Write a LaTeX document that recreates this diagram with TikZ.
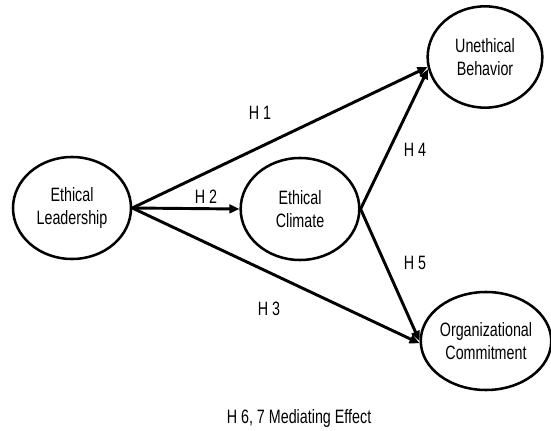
\documentclass[tikz,border=0pt]{standalone}
\usepackage{fontspec}
\setmainfont{Liberation Sans}[FakeStretch=0.74]
\usetikzlibrary{shapes.geometric,arrows.meta}
\begin{document}
\begin{tikzpicture}[x=0.75pt,y=-0.75pt,
  construct/.style={ellipse, draw, line width=1.9pt, align=center, inner sep=0pt,
    font=\fontsize{14.5}{17.5}\selectfont},
  hyp/.style={line width=2.2pt, -{Triangle[length=7.5pt,width=6.5pt]}},
  plain/.style={line width=2.0pt},
  lbl/.style={font=\fontsize{14.5}{17}\selectfont, inner sep=0pt}]
\useasboundingbox (0,0) rectangle (551,431);
\node[construct, minimum width=88.5pt, minimum height=76.5pt] (el) at (72,208) {Ethical\\Leadership};
\node[construct, minimum width=89pt, minimum height=76.5pt] (ec) at (300,209) {Ethical\\Climate};
\node[construct, minimum width=86pt, minimum height=76pt] (ub) at (485,57) {Unethical\\Behavior};
\node[construct, minimum width=85.5pt, minimum height=73.5pt] (oc) at (486,341) {Organizational\\Commitment};
\draw[hyp] (el.east) -- (ub.190);
\draw[hyp] (el.east) -- (ec.west);
\draw[hyp] (el.east) -- (oc.182);
\draw[hyp] (ec.east) -- (ub.192);
\draw[hyp] (ec.east) -- (oc.180);
\node[lbl] (h1) at (260,113) {H 1};
\node[lbl] (h2) at (206,197) {H 2};
\node[lbl] (h3) at (269,309) {H 3};
\node[lbl] (h4) at (415,150) {H 4};
\node[lbl] (h5) at (415,263) {H 5};
\node[lbl] (h67) at (299,419) {H 6, 7 Mediating Effect};
\end{tikzpicture}
\end{document}
